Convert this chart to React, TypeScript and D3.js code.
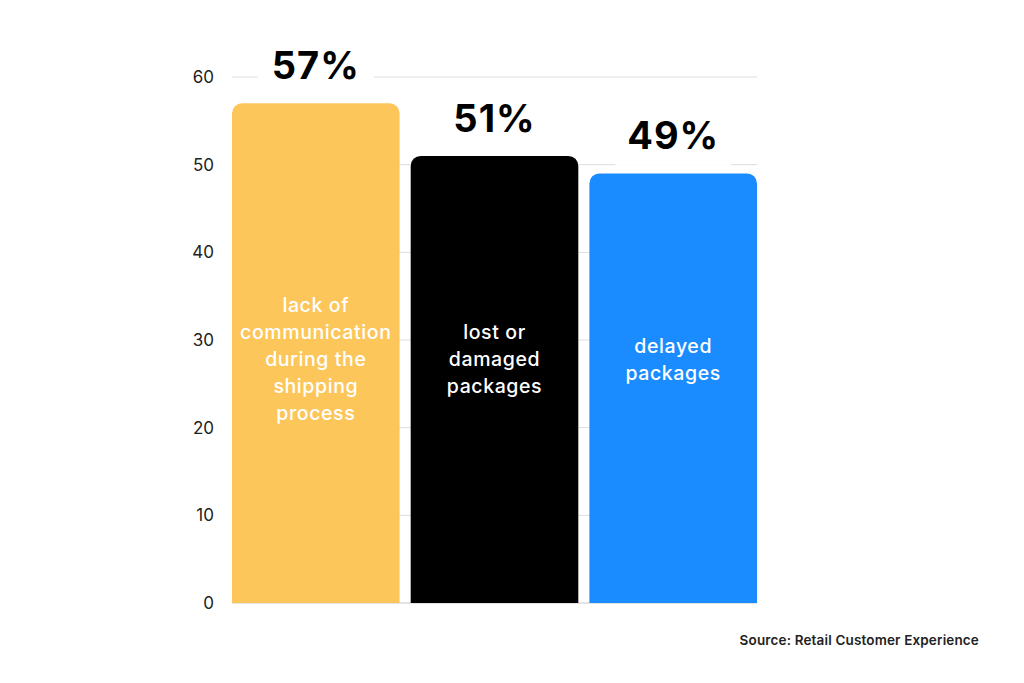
import React from 'react';
import * as d3 from 'd3';

const categories = ['lack of communication during the shipping process', 'lost or damaged packages', 'delayed packages'];
const labelLines = [
  ['lack of', 'communication', 'during the', 'shipping', 'process'],
  ['lost or', 'damaged', 'packages'],
  ['delayed', 'packages'],
];
const values = [57, 51, 49];
const colors = ['#FDC65B', '#000000', '#1A8CFF'];
const yTicks = [0, 10, 20, 30, 40, 50, 60];
const source = 'Source: Retail Customer Experience';

const W = 1024;
const H = 683;
const FONT = 'Inter, "Noto Sans", sans-serif';

function topRounded(x: number, y: number, w: number, h: number, r: number) {
  const p = d3.path();
  p.moveTo(x, y + h);
  p.lineTo(x, y + r);
  p.arcTo(x, y, x + r, y, r);
  p.lineTo(x + w - r, y);
  p.arcTo(x + w, y, x + w, y + r, r);
  p.lineTo(x + w, y + h);
  p.closePath();
  return p.toString();
}

function App() {
  const x = d3.scaleBand().domain(categories).range([232, 757]).paddingInner(0.062).paddingOuter(0);
  const y = d3.scaleLinear().domain([0, 60]).range([603, 77]);
  const lineH = 27;

  return (
    <svg width={W} height={H} style={{ position: 'absolute', left: 0, top: 0, background: '#fff' }}>
      {/* grid */}
      {yTicks.map((t) => (
        <g key={t}>
          <line x1={232} x2={757} y1={y(t)} y2={y(t)} stroke={t === 0 ? '#c8c8c8' : '#dedede'} strokeWidth={1} />
          <text x={214} y={y(t)} dy="0.35em" textAnchor="end" fontFamily={FONT} fontSize={17} fill="#222">
            {t}
          </text>
        </g>
      ))}

      {/* bars */}
      {categories.map((c, i) => {
        const bx = x(c)!;
        const bw = x.bandwidth();
        const top = y(values[i]);
        const lines = labelLines[i];
        const mid = y(27.8);
        return (
          <g key={c}>
            <path d={topRounded(bx, top, bw, y(0) - top, 10)} fill={colors[i]} />
            {lines.map((l, j) => (
              <text
                key={j}
                x={bx + bw / 2}
                y={mid + (j - (lines.length - 1) / 2) * lineH}
                dy="0.35em"
                textAnchor="middle"
                fontFamily={FONT}
                fontSize={19.5}
                fontWeight={500}
                letterSpacing={0.6}
                fill="#fff"
              >
                {l}
              </text>
            ))}
            <rect x={bx + bw / 2 - 58} y={top - 60} width={116} height={52} fill="#fff" />
            <text
              x={bx + bw / 2}
              y={top - 24}
              textAnchor="middle"
              fontFamily={FONT}
              fontSize={38}
              fontWeight={700}
              letterSpacing={1}
              fill="#000"
            >
              {values[i]}%
            </text>
          </g>
        );
      })}

      <text x={979} y={640} dy="0.35em" textAnchor="end" fontFamily={FONT} fontSize={13.5} fontWeight={600} letterSpacing={0.15} fill="#222">
        {source}
      </text>
    </svg>
  );
}

export default App;
